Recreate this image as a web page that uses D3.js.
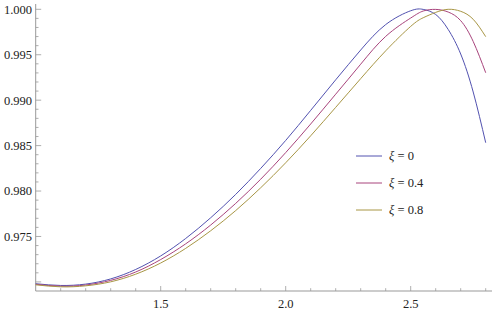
<!DOCTYPE html>
<html>
<head>
<meta charset="utf-8">
<script src="https://cdn.jsdelivr.net/npm/d3@7"></script>
<style>
  body { margin: 0; background: #fff; }
  svg { display: block; }
  svg text { font-family: "Liberation Serif", "DejaVu Serif", serif; }
</style>
</head>
<body>
<svg id="chart" width="498" height="314"></svg>
<script>
// x samples (same for all three curves)
var xs = [1.0, 1.1, 1.2, 1.3, 1.4, 1.5, 1.6, 1.7, 1.8, 1.9, 2.0, 2.1, 2.2, 2.3, 2.4, 2.5, 2.55, 2.6, 2.65, 2.7, 2.75, 2.8];

var xi0 = [0.96980, 0.96961, 0.96976, 0.97033, 0.97137, 0.97286, 0.97478, 0.97706, 0.97963, 0.98249, 0.98557,
           0.98888, 0.99224, 0.99552, 0.99832, 0.99984, 0.99999, 0.99943, 0.99778, 0.99508, 0.99090, 0.98532];
var xi04 = [0.96974, 0.96953, 0.96966, 0.97017, 0.97109, 0.97246, 0.97419, 0.97626, 0.97864, 0.98130, 0.98423,
            0.98738, 0.99066, 0.99396, 0.99702, 0.99904, 0.99981, 0.99999, 0.99970, 0.99875, 0.99646, 0.99302];
var xi08 = [0.96968, 0.96946, 0.96957, 0.97001, 0.97085, 0.97208, 0.97369, 0.97563, 0.97785, 0.98036, 0.98311,
            0.98608, 0.98921, 0.99237, 0.99543, 0.99812, 0.99907, 0.99966, 1.00000, 0.99978, 0.99890, 0.99699];

var seriesNames = ["0", "0.4", "0.8"];
var seriesColors = ["#5252b0", "#a8447c", "#a89645"];

var xTicks = [1.5, 2.0, 2.5];
var yTicks = [0.975, 0.980, 0.985, 0.990, 0.995, 1.000];

var fsize = "12.5px";

var svg = d3.select("#chart");

var x = d3.scaleLinear().domain([1.0, 2.8]).range([35.7, 485.7]);
var y = d3.scaleLinear().domain([0.969, 1.0]).range([291, 9.3]);

var axisCol = "#999";

// x axis
var gx = svg.append("g");
gx.append("line")
    .attr("x1", x(1.0)).attr("x2", 492)
    .attr("y1", y(0.969)).attr("y2", y(0.969))
    .attr("stroke", axisCol).attr("stroke-width", 1);

var xMinor = d3.range(11, 29).map(function (d) { return d / 10; });
gx.selectAll(".xm").data(xMinor).enter().append("line")
    .attr("x1", function (d) { return x(d); })
    .attr("x2", function (d) { return x(d); })
    .attr("y1", y(0.969))
    .attr("y2", function (d) { return xTicks.indexOf(d) >= 0 ? y(0.969) - 5 : y(0.969) - 2.8; })
    .attr("stroke", axisCol).attr("stroke-width", 0.8);

gx.selectAll(".xl").data(xTicks).enter().append("text")
    .attr("x", function (d) { return x(d); })
    .attr("y", 308)
    .attr("text-anchor", "middle")
    .style("font-size", fsize).attr("fill", "#222")
    .text(function (d) { return d3.format(".1f")(d); });

// y axis
var gy = svg.append("g");
gy.append("line")
    .attr("x1", x(1.0)).attr("x2", x(1.0))
    .attr("y1", 4).attr("y2", y(0.969))
    .attr("stroke", axisCol).attr("stroke-width", 1);

var yMinor = d3.range(970, 1001).map(function (d) { return d / 1000; });
gy.selectAll(".ym").data(yMinor).enter().append("line")
    .attr("x1", x(1.0))
    .attr("x2", function (d) { return (Math.round(d * 1000) % 5 === 0) ? x(1.0) + 5.5 : x(1.0) + 2.8; })
    .attr("y1", function (d) { return y(d); })
    .attr("y2", function (d) { return y(d); })
    .attr("stroke", axisCol).attr("stroke-width", 0.8);

gy.selectAll(".yl").data(yTicks).enter().append("text")
    .attr("x", 32)
    .attr("y", function (d) { return y(d); })
    .attr("dy", "0.35em")
    .attr("text-anchor", "end")
    .style("font-size", fsize).attr("fill", "#222")
    .text(function (d) { return d3.format(".3f")(d); });

// curves
var line = d3.line()
    .x(function (d) { return x(d[0]); })
    .y(function (d) { return y(d[1]); })
    .curve(d3.curveNatural);

[xi0, xi04, xi08].forEach(function (vals, i) {
    svg.append("path")
        .datum(xs.map(function (v, j) { return [v, vals[j]]; }))
        .attr("d", line)
        .attr("fill", "none")
        .attr("stroke", seriesColors[i])
        .attr("stroke-width", 1);
});

// legend
var lg = svg.append("g");
seriesNames.forEach(function (name, i) {
    var ly = 156 + i * 27;
    lg.append("line")
        .attr("x1", 356).attr("x2", 382)
        .attr("y1", ly).attr("y2", ly)
        .attr("stroke", seriesColors[i]).attr("stroke-width", 1);
    var t = lg.append("text")
        .attr("x", 389)
        .attr("y", ly)
        .attr("dy", "0.35em")
        .style("font-size", fsize).attr("fill", "#222");
    t.append("tspan").style("font-style", "italic").text("ξ");
    t.append("tspan").text(" = " + name);
});
</script>
</body>
</html>
